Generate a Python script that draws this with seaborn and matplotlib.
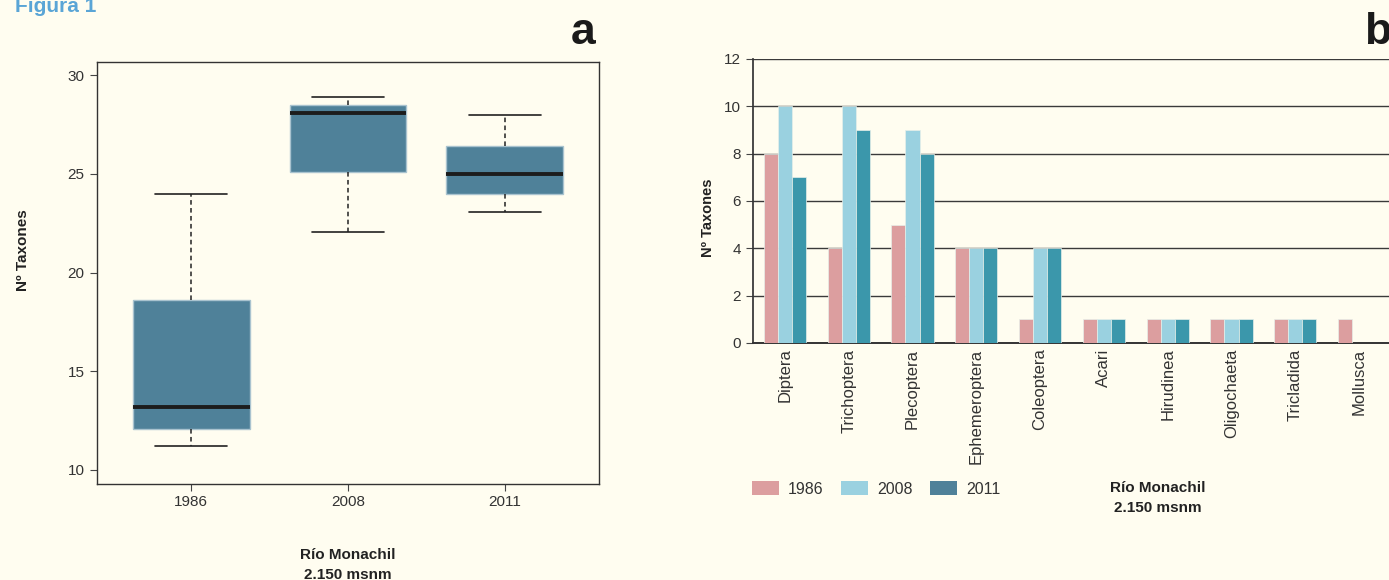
import numpy as np
import pandas as pd
import seaborn as sns
import matplotlib.pyplot as plt

# --- datos ---
years = ["1986", "2008", "2011"]
box_1986 = [11.2, 12.1, 13.2, 18.6, 24.0]
box_2008 = [22.05, 25.1, 28.1, 28.5, 28.9]
box_2011 = [23.05, 24.0, 25.0, 26.4, 28.0]

orders = ["Diptera", "Trichoptera", "Plecoptera", "Ephemeroptera", "Coleoptera",
          "Acari", "Hirudinea", "Oligochaeta", "Tricladida", "Mollusca"]
taxa_1986 = [8, 4, 5, 4, 1, 1, 1, 1, 1, 1]
taxa_2008 = [10, 10, 9, 4, 4, 1, 1, 1, 1, 0]
taxa_2011 = [7, 9, 8, 4, 4, 1, 1, 1, 1, 0]

BG = "#fffdf0"
BOX_COLOR = "#4f8199"
BAR_COLORS = ["#dc9e9f", "#9ad1e0", "#3b97ab"]
TXT = "#333333"

sns.set_theme(style="white", rc={"figure.facecolor": BG, "axes.facecolor": BG,
                                 "savefig.facecolor": BG})
plt.rcParams["font.family"] = ["Liberation Sans", "DejaVu Sans"]

df_box = pd.DataFrame({
    "year": np.repeat(years, 5),
    "taxa": box_1986 + box_2008 + box_2011,
})

df_bar = pd.DataFrame({
    "order": orders * 3,
    "year": np.repeat(years, len(orders)),
    "n": taxa_1986 + taxa_2008 + taxa_2011,
})

fig = plt.figure(figsize=(13.89, 5.8), dpi=100)

# --- panel a: boxplot ---
ax1 = fig.add_axes([97 / 1389, 1 - 484 / 580, 502 / 1389, 422 / 580])
sns.boxplot(data=df_box, x="year", y="taxa", ax=ax1, width=0.745,
            color=BOX_COLOR, saturation=1, fliersize=0, linecolor="#222222",
            capwidths=0.46,
            boxprops=dict(edgecolor="#a9c3cf", linewidth=1),
            medianprops=dict(color="#1c1c1c", linewidth=2.8),
            whiskerprops=dict(color="#222222", linewidth=1.1, linestyle=(0, (3, 2.2))),
            capprops=dict(color="#222222", linewidth=1.2))
ax1.set_xlim(-0.6, 2.6)
ax1.set_ylim(9.29, 30.66)
ax1.set_yticks([10, 15, 20, 25, 30])
for s in ax1.spines.values():
    s.set_visible(True)
    s.set_color("#333333")
    s.set_linewidth(1)
ax1.tick_params(axis="both", which="both", length=5, width=0.8, color="#444444",
                labelsize=11, labelcolor=TXT, bottom=True, left=True, pad=4)
ax1.tick_params(axis="x", pad=3)
ax1.set_xlabel("")
ax1.set_ylabel("Nº Taxones", fontsize=11, fontweight="bold", color="#222222")
ax1.yaxis.set_label_coords(-0.133, 0.555)

fig.text(348 / 1389, 1 - 565 / 580, "Río Monachil\n2.150 msnm", ha="center", va="center",
         fontsize=11, fontweight="bold", color="#222222", linespacing=1.55)

# --- panel b: barras ---
ax2 = fig.add_axes([753 / 1389, 1 - 343 / 580, 638 / 1389, 284 / 580])
sns.barplot(data=df_bar, x="order", y="n", hue="year", palette=BAR_COLORS,
            width=0.66, saturation=1, ax=ax2, edgecolor="#e6efe9", linewidth=0.5,
            errorbar=None, zorder=3)
ax2.set_xlim(-0.5, 9.5)
ax2.set_ylim(0, 12)
ax2.set_yticks(range(0, 13, 2))
ax2.yaxis.grid(True, color="#3a3a3a", linewidth=1)
ax2.set_axisbelow(True)
for side in ["top", "right"]:
    ax2.spines[side].set_visible(False)
ax2.spines["left"].set_color("#333333")
ax2.spines["bottom"].set_color("#333333")
ax2.spines["bottom"].set_linewidth(1.4)
ax2.tick_params(axis="y", length=5, width=0.8, color="#444444", left=True,
                labelsize=11, labelcolor=TXT)
ax2.tick_params(axis="x", length=0, labelsize=12, labelcolor=TXT, rotation=90, pad=4)
ax2.set_xlabel("")
ax2.set_ylabel("Nº Taxones", fontsize=10.5, fontweight="bold", color="#222222")
ax2.yaxis.set_label_coords(-0.06, 0.44)

handles, labels = ax2.get_legend_handles_labels()
ax2.get_legend().remove()
# en la leyenda original el 2011 sale con el color del boxplot
handles[2].set_facecolor(BOX_COLOR)
for h in handles:
    h.set_edgecolor("none")
fig.legend(handles, labels, loc="center left", bbox_to_anchor=(752 / 1389, 1 - 489 / 580),
           ncol=3, frameon=False, fontsize=11.5, handlelength=1.7, handleheight=0.9,
           handletextpad=0.55, columnspacing=1.1, borderpad=0, borderaxespad=0,
           labelcolor=TXT)

fig.text(1158 / 1389, 1 - 498 / 580, "Río Monachil\n2.150 msnm", ha="center", va="center",
         fontsize=11, fontweight="bold", color="#222222", linespacing=1.55)

# --- rotulos ---
fig.text(15 / 1389, 1 - 12 / 580, "Figura 1", ha="left", va="baseline", fontsize=15,
         fontweight="bold", color="#5aa5d6")
fig.text(583 / 1389, 1 - 33 / 580, "a", ha="center", va="center", fontsize=32,
         fontweight="bold", color="#1a1a1a")
fig.text(1378 / 1389, 1 - 33 / 580, "b", ha="center", va="center", fontsize=32,
         fontweight="bold", color="#1a1a1a")

fig.savefig("out.png", dpi=100)
